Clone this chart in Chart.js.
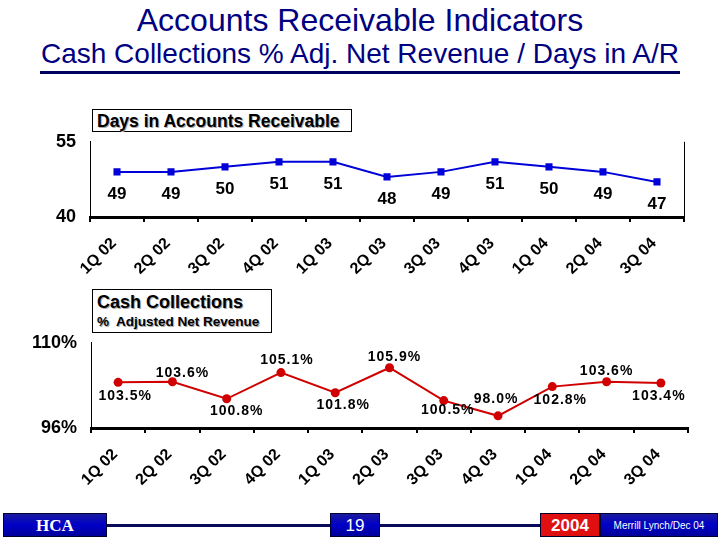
<!DOCTYPE html>
<html>
<head>
<meta charset="utf-8">
<script src="https://cdn.jsdelivr.net/npm/chart.js@4.4.1/dist/chart.umd.min.js"></script>
<style>
  body { margin:0; width:720px; height:540px; background:#fff; position:relative; overflow:hidden; font-family:Arial, "Liberation Sans", sans-serif; }
  .title { position:absolute; left:0; width:720px; text-align:center; color:#000080; white-space:nowrap; }
  #t1 { top:1px; font-size:32px; line-height:38px; }
  #t2 { top:38px; font-size:28px; line-height:32px; }
  #rule { position:absolute; left:40px; top:71px; width:640px; height:3px; background:#000060; }
  .cv { position:absolute; left:0; }
  .box { position:absolute; border:1px solid #000; background:#fff; font-weight:bold; color:#000; text-shadow:1px 1px 0 #aaa; z-index:2; white-space:nowrap; }
  .foot { position:absolute; top:513px; height:24px; color:#fff; text-align:center; line-height:24px; box-sizing:border-box; border:1px solid #000030; }
  .blue { background:linear-gradient(#1a1aa0,#0000c8 50%,#00009a); }
  .fline { position:absolute; top:524px; height:3px; background:#0a0a5a; }
</style>
</head>
<body>
<div class="title" id="t1">Accounts Receivable Indicators</div>
<div class="title" id="t2">Cash Collections % Adj. Net Revenue / Days in A/R</div>
<div id="rule"></div>

<div class="box" style="left:92px;top:109px;width:260px;height:23px;font-size:17.5px;line-height:22px;padding-left:4px;box-sizing:border-box;">Days in Accounts Receivable</div>
<div class="cv" style="top:117px;width:720px;height:163px;"><canvas id="daysChart"></canvas></div>

<div class="box" style="left:92px;top:289px;width:180px;height:44px;box-sizing:border-box;padding-left:4px;">
  <div style="font-size:18px;line-height:25px;">Cash Collections</div>
  <div style="font-size:13.5px;line-height:14px;">%&nbsp; Adjusted Net Revenue</div>
</div>
<div class="cv" style="top:318px;width:720px;height:172px;"><canvas id="cashChart"></canvas></div>

<div class="foot blue" style="left:3px;width:104px;font-family:'Liberation Serif','DejaVu Serif',serif;font-weight:bold;font-size:17px;">HCA</div>
<div class="fline" style="left:107px;width:223px;"></div>
<div class="foot blue" style="left:330px;width:50px;font-size:17px;">19</div>
<div class="fline" style="left:380px;width:160px;"></div>
<div class="foot" style="left:540px;width:60px;background:#e01010;font-size:17px;font-weight:bold;">2004</div>
<div class="foot blue" style="left:600px;width:118px;font-size:10px;">Merrill Lynch/Dec 04</div>

<script>
// ── Data ─────────────────────────────────────────────────────
const quarters = ['1Q 02','2Q 02','3Q 02','4Q 02','1Q 03','2Q 03','3Q 03','4Q 03','1Q 04','2Q 04','3Q 04'];
const daysInAR = [49, 49, 50, 51, 51, 48, 49, 51, 50, 49, 47];
const cashPct  = [103.5, 103.6, 100.8, 105.1, 101.8, 105.9, 100.5, 98.0, 102.8, 103.6, 103.4];
const daysTicks = [40, 55];
const cashTicks = [96, 110];

// label offsets (px) from each point
const daysOffsets = quarters.map(() => [0, 22]);
const cashOffsets = [[7,14],[10,-9],[10,12],[6,-12],[8,12],[5,-11],[4,10],[-2,-17],[8,14],[0,-11],[-2,13]];

const FONT = 'Arial, "Liberation Sans", sans-serif';

// ── Point labels + optional right frame ──────────────────────
const pointLabels = {
  id: 'pointLabels',
  afterDatasetsDraw(chart, args, opts) {
    const ctx = chart.ctx;
    const meta = chart.getDatasetMeta(0);
    const vals = chart.data.datasets[0].data;
    ctx.save();
    ctx.font = 'bold ' + opts.size + 'px ' + FONT;
    if (opts.spacing) ctx.letterSpacing = opts.spacing + 'px';
    ctx.fillStyle = '#000';
    ctx.textAlign = 'center';
    ctx.textBaseline = 'middle';
    meta.data.forEach((pt, i) => {
      const o = opts.offsets[i];
      ctx.fillText(opts.format(vals[i]), pt.x + o[0], pt.y + o[1]);
    });
    if (opts.frameRight) {
      const a = chart.chartArea;
      ctx.strokeStyle = '#000';
      ctx.lineWidth = 1;
      ctx.beginPath();
      ctx.moveTo(a.right + 0.5, a.top);
      ctx.lineTo(a.right + 0.5, a.bottom + 2);
      ctx.stroke();
    }
    ctx.restore();
  }
};

function makeChart(id, values, ticks, color, pointStyle, fmtTick, labelOpts, pad) {
  return new Chart(document.getElementById(id), {
    type: 'line',
    data: {
      labels: quarters,
      datasets: [{
        data: values,
        borderColor: color,
        backgroundColor: color,
        borderWidth: 2,
        pointStyle: pointStyle,
        pointRadius: pad.pr,
        pointBorderWidth: 0,
        tension: 0
      }]
    },
    options: {
      responsive: true, maintainAspectRatio: false, animation: false,
      layout: { padding: { top: 0, right: pad.right, left: 0, bottom: 0 } },
      plugins: { legend: { display: false }, tooltip: { enabled: false }, pointLabels: labelOpts },
      scales: {
        x: {
          offset: true,
          grid: { offset: true, drawOnChartArea: false, tickLength: 5, color: '#000', lineWidth: 2 },
          border: { color: '#000', width: 3 },
          ticks: { color: '#000', font: { family: FONT, size: 16, weight: 'bold' }, minRotation: 45, maxRotation: 45, padding: 12, labelOffset: -3, autoSkip: false },
          afterFit: s => { s.height = pad.xh; }
        },
        y: {
          min: ticks[0], max: ticks[ticks.length - 1],
          afterBuildTicks: s => { s.ticks = ticks.map(v => ({ value: v })); },
          grid: { display: false, drawTicks: false },
          border: { color: '#000', width: 1 },
          ticks: { color: '#000', font: { family: FONT, size: 18, weight: 'bold' }, padding: 14, callback: fmtTick },
          afterFit: s => { s.width = pad.left; }
        }
      }
    },
    plugins: [pointLabels]
  });
}

makeChart('daysChart', daysInAR, daysTicks, '#0000d8', 'rect', v => v,
  { size: 17, offsets: daysOffsets, format: v => String(v), frameRight: true },
  { right: 36, left: 90, xh: 63, pr: 5 });

makeChart('cashChart', cashPct, cashTicks, '#d00000', 'circle', v => v + '%',
  { size: 14, spacing: 1, offsets: cashOffsets, format: v => v.toFixed(1) + '%', frameRight: false },
  { right: 32, left: 91, xh: 62, pr: 4.5 });
</script>
</body>
</html>
